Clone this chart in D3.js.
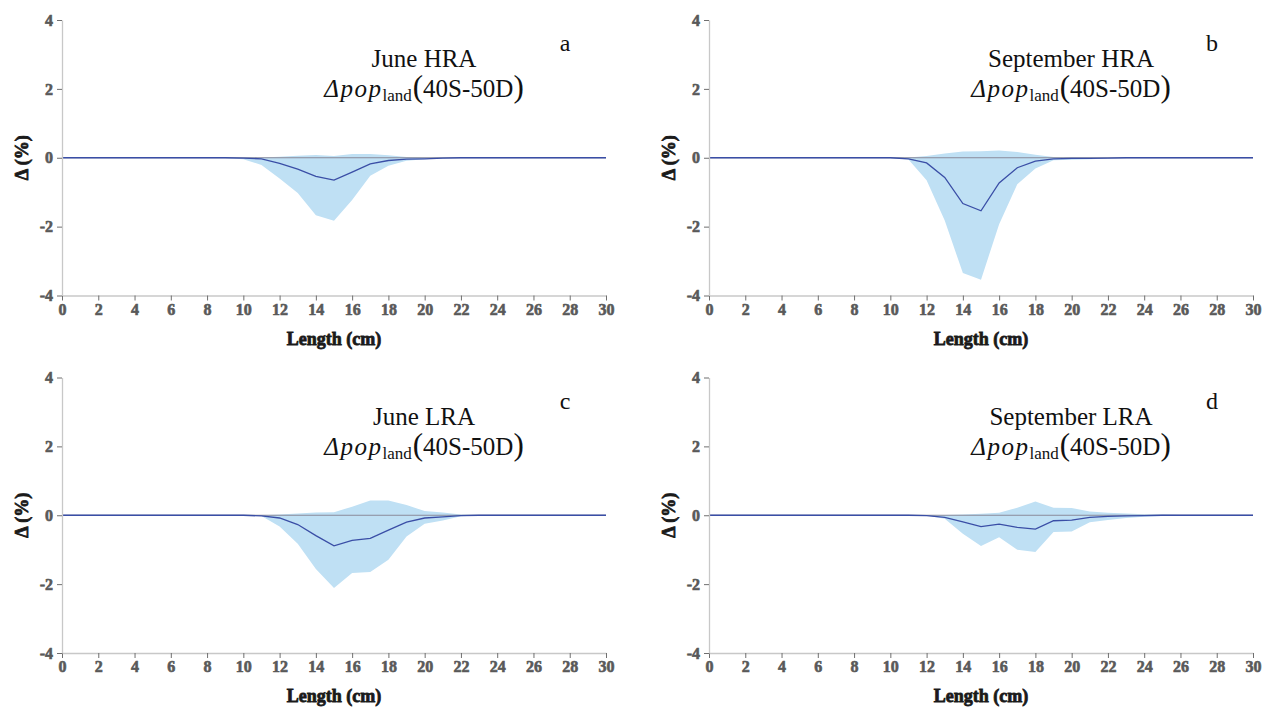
<!DOCTYPE html>
<html>
<head>
<meta charset="utf-8">
<script src="https://cdn.jsdelivr.net/npm/d3@7"></script>
<style>
  body { margin: 0; background: #fff; }
  svg { display: block; }
</style>
</head>
<body>
<svg id="chart" width="1263" height="708"></svg>
<script>
// length classes (cm)
var lengths = [0,1,2,3,4,5,6,7,8,9,10,11,12,13,14,15,16,17,18,19,20,21,22,23,24,25,26,27,28,29,30];

// June HRA
var meanA = [0,0,0,0,0,0,0,0,0,0,-0.01,-0.03,-0.16,-0.33,-0.54,-0.65,-0.42,-0.18,-0.08,-0.04,-0.03,-0.01,0,0,0,0,0,0,0,0,0];
var upA   = [0,0,0,0,0,0,0,0,0,0.01,0.01,0.01,0.03,0.06,0.08,0.05,0.11,0.11,0.07,0.02,0.01,0.01,0.01,0,0,0,0,0,0,0,0];
var loA   = [0,0,0,0,0,0,0,0,0,-0.01,-0.04,-0.21,-0.6,-1.02,-1.67,-1.83,-1.23,-0.52,-0.23,-0.09,-0.04,-0.02,-0.01,0,0,0,0,0,0,0,0];

// September HRA
var meanB = [0,0,0,0,0,0,0,0,0,0,0,-0.03,-0.15,-0.57,-1.33,-1.54,-0.73,-0.29,-0.1,-0.03,-0.02,-0.02,-0.01,0,0,0,0,0,0,0,0];
var upB   = [0,0,0,0,0,0,0,0,0,0.01,0.01,0.01,0.05,0.12,0.18,0.19,0.21,0.17,0.09,0.02,0.01,0.01,0.01,0.01,0.01,0,0,0,0,0,0];
var loB   = [0,0,0,0,0,0,0,0,0,0,-0.01,-0.05,-0.65,-1.82,-3.35,-3.54,-1.93,-0.77,-0.31,-0.07,-0.06,-0.04,-0.02,-0.01,0,0,0,0,0,0,0];

// June LRA
var meanC = [0,0,0,0,0,0,0,0,0,0,0,-0.02,-0.08,-0.27,-0.59,-0.89,-0.73,-0.67,-0.43,-0.2,-0.08,-0.05,-0.01,0,0,0,0,0,0,0,0];
var upC   = [0,0,0,0,0,0,0,0,0,0.01,0.01,0,0.02,0.05,0.08,0.09,0.25,0.43,0.43,0.3,0.12,0.08,0.02,0.01,0.01,0,0,0,0,0,0];
var loC   = [0,0,0,0,0,0,0,0,0,0,-0.01,-0.02,-0.33,-0.83,-1.56,-2.11,-1.68,-1.65,-1.29,-0.62,-0.25,-0.15,-0.03,-0.01,0,0,0,0,0,0,0];

// September LRA
var meanD = [0,0,0,0,0,0,0,0,0,0,0,0,-0.01,-0.06,-0.19,-0.33,-0.26,-0.35,-0.4,-0.16,-0.14,-0.06,-0.03,-0.02,-0.01,0,0,0,0,0,0];
var upD   = [0,0,0,0,0,0,0,0,0,0,0,0.01,0.01,0.01,0.02,0.04,0.07,0.22,0.4,0.22,0.21,0.11,0.07,0.05,0.03,0.02,0.01,0.01,0,0,0];
var loD   = [0,0,0,0,0,0,0,0,0,0,0,0,-0.01,-0.1,-0.54,-0.89,-0.64,-1.0,-1.07,-0.49,-0.47,-0.2,-0.14,-0.08,-0.04,-0.02,-0.01,0,0,0,0];

var xTicks = [0,2,4,6,8,10,12,14,16,18,20,22,24,26,28,30];
var yTicks = [-4,-2,0,2,4];

var panels = [
  { title: "June HRA", letter: "a", mean: meanA, up: upA, lo: loA, left: 62, top: 20 },
  { title: "September HRA", letter: "b", mean: meanB, up: upB, lo: loB, left: 709, top: 20 },
  { title: "June LRA", letter: "c", mean: meanC, up: upC, lo: loC, left: 62, top: 377.5 },
  { title: "September LRA", letter: "d", mean: meanD, up: upD, lo: loD, left: 709, top: 377.5 }
];

var width = 544, height = 275.5;
var serif = "'Liberation Serif', 'Times New Roman', serif";
var svg = d3.select("#chart");

// heavy serif labels: bold face thickened a little with a stroke
function fakeBold(sel, color, sw) {
  sel.attr("font-family", null)
    .attr("fill", color)
    .attr("stroke", color)
    .attr("stroke-width", sw)
    .style("font-family", serif)
    .style("font-weight", "bold");
}

panels.forEach(function (p) {
  var g = svg.append("g").attr("transform", "translate(" + p.left + "," + p.top + ")");

  var x = d3.scaleLinear().domain([0, 30]).range([0, width]);
  var y = d3.scaleLinear().domain([-4, 4]).range([height, 0]);

  var rows = lengths.map(function (l, i) {
    return { len: l, mean: p.mean[i], up: p.up[i], lo: p.lo[i] };
  });

  // band
  g.append("path")
    .datum(rows)
    .attr("fill", "#bfe0f4")
    .attr("d", d3.area()
      .x(function (d) { return x(d.len); })
      .y0(function (d) { return y(d.lo); })
      .y1(function (d) { return y(d.up); }));

  // zero line
  g.append("line")
    .attr("x1", x(0)).attr("x2", x(30))
    .attr("y1", y(0)).attr("y2", y(0))
    .attr("stroke", "#8a8a9a")
    .attr("stroke-width", 1.2);

  // mean
  g.append("path")
    .datum(rows)
    .attr("fill", "none")
    .attr("stroke", "#3a4ea6")
    .attr("stroke-width", 1.3)
    .attr("d", d3.line()
      .x(function (d) { return x(d.len); })
      .y(function (d) { return y(d.mean); }));

  // axes
  var xAxis = g.append("g")
    .attr("transform", "translate(0," + height + ")")
    .call(d3.axisBottom(x).tickValues(xTicks).tickSize(5).tickPadding(3).tickSizeOuter(0));
  var yAxis = g.append("g")
    .call(d3.axisLeft(y).tickValues(yTicks).tickFormat(function (d) { return String(d); })
      .tickSize(5).tickPadding(4).tickSizeOuter(0));

  [xAxis, yAxis].forEach(function (a) {
    a.attr("font-family", null);
    a.select(".domain").attr("stroke", "#c8c8c8").attr("stroke-width", 1.3);
    a.selectAll(".tick line").attr("stroke", "#6f6f6f");
    a.selectAll(".tick text").style("font-size", "16px").call(fakeBold, "#595959", 0.6);
  });

  g.append("text")
    .attr("x", width / 2)
    .attr("y", height + 49)
    .attr("text-anchor", "middle")
    .style("font-size", "18px")
    .text("Length (cm)")
    .call(fakeBold, "#1a1a1a", 0.8);

  g.append("text")
    .attr("transform", "translate(" + (-34) + "," + y(0) + ") rotate(-90)")
    .attr("text-anchor", "middle")
    .style("font-size", "18px")
    .text("Δ (%)")
    .call(fakeBold, "#1a1a1a", 0.8);

  // titles
  var cx = 362;
  g.append("text")
    .attr("x", cx).attr("y", 47)
    .attr("text-anchor", "middle")
    .style("font-family", serif)
    .style("font-size", "25px")
    .attr("fill", "#111")
    .text(p.title);

  var t2 = g.append("text")
    .attr("x", cx).attr("y", 77)
    .attr("text-anchor", "middle")
    .style("font-family", serif)
    .style("font-size", "25px")
    .attr("fill", "#111");
  t2.append("tspan").style("font-style", "italic").attr("letter-spacing", "1.5px").text("Δpop");
  t2.append("tspan").style("font-size", "17px").attr("dy", 4).text("land");
  t2.append("tspan").style("font-size", "31px").attr("dy", -4).attr("dx", 1).text("(");
  t2.append("tspan").text("40S-50D");
  t2.append("tspan").style("font-size", "31px").text(")");

  g.append("text")
    .attr("x", 503).attr("y", 31)
    .attr("text-anchor", "middle")
    .style("font-family", serif)
    .style("font-size", "24px")
    .attr("fill", "#111")
    .text(p.letter);
});
</script>
</body>
</html>
